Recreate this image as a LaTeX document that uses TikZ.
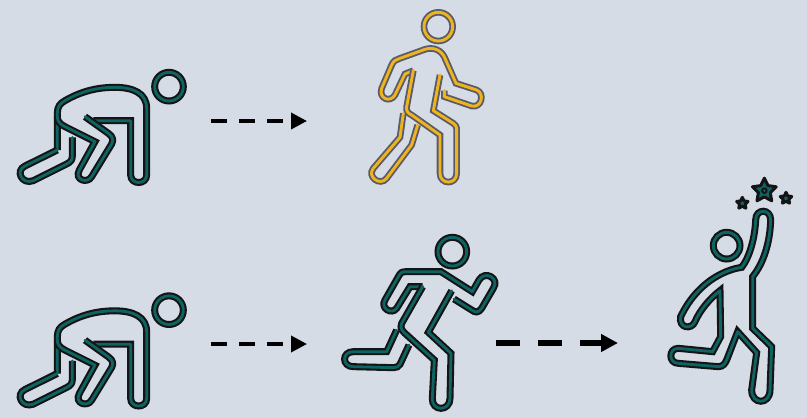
\documentclass[tikz,border=0pt]{standalone}
\usetikzlibrary{arrows.meta,shapes.geometric}
\definecolor{bgc}{HTML}{D6DCE5}
\definecolor{tealc}{HTML}{0E6464}
\definecolor{yellowc}{HTML}{EDB41E}
\definecolor{grayc}{HTML}{5A5A68}
\tikzset{
  figA/.style={preaction={draw,black!92,line width=7pt},draw=tealc,line width=2.8pt,line join=round,line cap=round},
  figB/.style={preaction={draw,grayc,line width=6.6pt},draw=yellowc,line width=2.9pt,line join=round,line cap=round},
  zoomed/.style={x=0.33333pt,y=-0.33333pt},
  thinarrow/.style={draw=black,line width=3.6pt,dash pattern=on 16pt off 12pt,-{Triangle[length=16pt,width=16pt,sep=0pt]}},
  thickarrow/.style={draw=black,line width=6.2pt,dash pattern=on 24pt off 18pt,-{Triangle[length=17pt,width=17pt,sep=0pt]}},
  starshape/.style={star,star points=5,star point ratio=2.0,fill=tealc,draw=black!92,line width=3pt,inner sep=0pt,line join=round}
}
\newcommand{\crouchfig}[2]{%
\begin{scope}[zoomed,shift={(#1pt,-#2pt)}]
\draw[figA] (507,110) circle (43);
\draw[figA] (172,300) -- (172,190) .. controls (172,170) and (180,160) .. (195,152) .. controls (250,120) and (300,112) .. (345,112) .. controls (400,112) and (440,130) .. (440,175) -- (440,375) .. controls (440,405) and (392,405) .. (392,375) -- (392,212) -- (280,212);
\draw[figA] (255,200) -- (325,250) .. controls (340,260) and (340,272) .. (335,282) -- (275,380) .. controls (262,402) and (222,390) .. (238,360) -- (285,275) -- (195,230) .. controls (180,222) and (172,215) .. (172,200);
\draw[figA] (172,300) -- (75,348) .. controls (45,362) and (65,405) .. (100,392) -- (200,342) .. controls (212,336) and (217,330) .. (217,318) -- (217,262);
\end{scope}}
\begin{document}
\begin{tikzpicture}[x=1pt,y=1pt]
\fill[bgc] (0,0) rectangle (807,-418);
\useasboundingbox (0,0) rectangle (807,-418);
\crouchfig{0}{50}
\crouchfig{0}{273.5}
% walker
\begin{scope}[zoomed,shift={(350pt,0pt)}]
\draw[figB] (265,80) circle (43);
\draw[figB] (190,212) -- (165,222) -- (135,285) .. controls (120,310) and (85,295) .. (95,265) -- (125,195) .. controls (130,182) and (140,178) .. (150,175) -- (225,148) .. controls (250,140) and (275,150) .. (285,175) -- (318,250) -- (380,270) .. controls (405,280) and (395,325) .. (365,318) -- (283,290) -- (283,272);
\draw[figB] (190,212) -- (170,320) .. controls (168,335) and (175,340) .. (185,345) -- (270,405) -- (270,520) .. controls (270,555) and (320,555) .. (320,520) -- (320,385) .. controls (320,378) and (315,375) .. (310,370) -- (250,332) -- (270,225);
\draw[figB] (160,340) -- (150,412) -- (70,505) .. controls (50,530) and (90,560) .. (110,535) -- (185,435) -- (203,375);
\end{scope}
% runner
\begin{scope}[zoomed,shift={(335pt,-225pt)}]
\draw[figA] (352,80) circle (43);
\draw[figA] (263,185) -- (225,185) -- (185,250) .. controls (170,270) and (135,250) .. (150,225) -- (190,155) .. controls (197,142) and (200,140) .. (215,140) -- (318,140) -- (412,200) -- (432,165) .. controls (450,135) and (495,160) .. (475,190) -- (440,250) .. controls (430,265) and (420,262) .. (410,255) -- (357,222);
\draw[figA] (263,185) -- (200,295) .. controls (195,310) and (200,315) .. (210,325) -- (298,405) -- (292,520) .. controls (290,560) and (345,560) .. (345,520) -- (348,385) -- (280,322) -- (350,197);
\draw[figA] (185,315) -- (155,380) -- (55,380) .. controls (20,380) and (20,425) .. (55,425) -- (175,428) .. controls (185,428) and (190,425) .. (195,418) -- (222,360);
\end{scope}
% jumper
\begin{scope}[zoomed,shift={(660pt,-170pt)}]
\draw[figA] (200,227) circle (40);
\draw[figA] (278,320) .. controls (310,280) and (330,220) .. (332,150) .. controls (332,115) and (287,115) .. (287,150) .. controls (285,200) and (270,260) .. (245,292) .. controls (190,300) and (110,340) .. (62,440) .. controls (55,475) and (95,480) .. (105,455) .. controls (120,420) and (150,385) .. (180,362) -- (182,500) -- (158,545) -- (55,535) .. controls (25,535) and (25,580) .. (55,580) -- (175,590) .. controls (190,590) and (195,580) .. (200,570) -- (233,485) -- (290,548) -- (275,660) .. controls (275,705) and (330,705) .. (330,660) -- (335,530) -- (278,475) -- cycle;
\node[starshape,minimum size=25pt] (bigstar) at (313,62) {};
\node[starshape,minimum size=12pt] (lstar) at (247,100) {};
\node[starshape,minimum size=12pt] (rstar) at (378,85) {};
\fill[black!92] (313,62) circle (10);
\fill[tealc] (313,62) circle (4);
\end{scope}
% arrows
\coordinate (a1s) at (211,-121);
\coordinate (a1e) at (307,-121);
\coordinate (a2s) at (211,-344);
\coordinate (a2e) at (307,-344);
\coordinate (a3s) at (496,-343);
\coordinate (a3e) at (618,-343);
\draw[thinarrow] (a1s) -- (a1e);
\draw[thinarrow] (a2s) -- (a2e);
\draw[thickarrow] (a3s) -- (a3e);
\end{tikzpicture}
\end{document}
